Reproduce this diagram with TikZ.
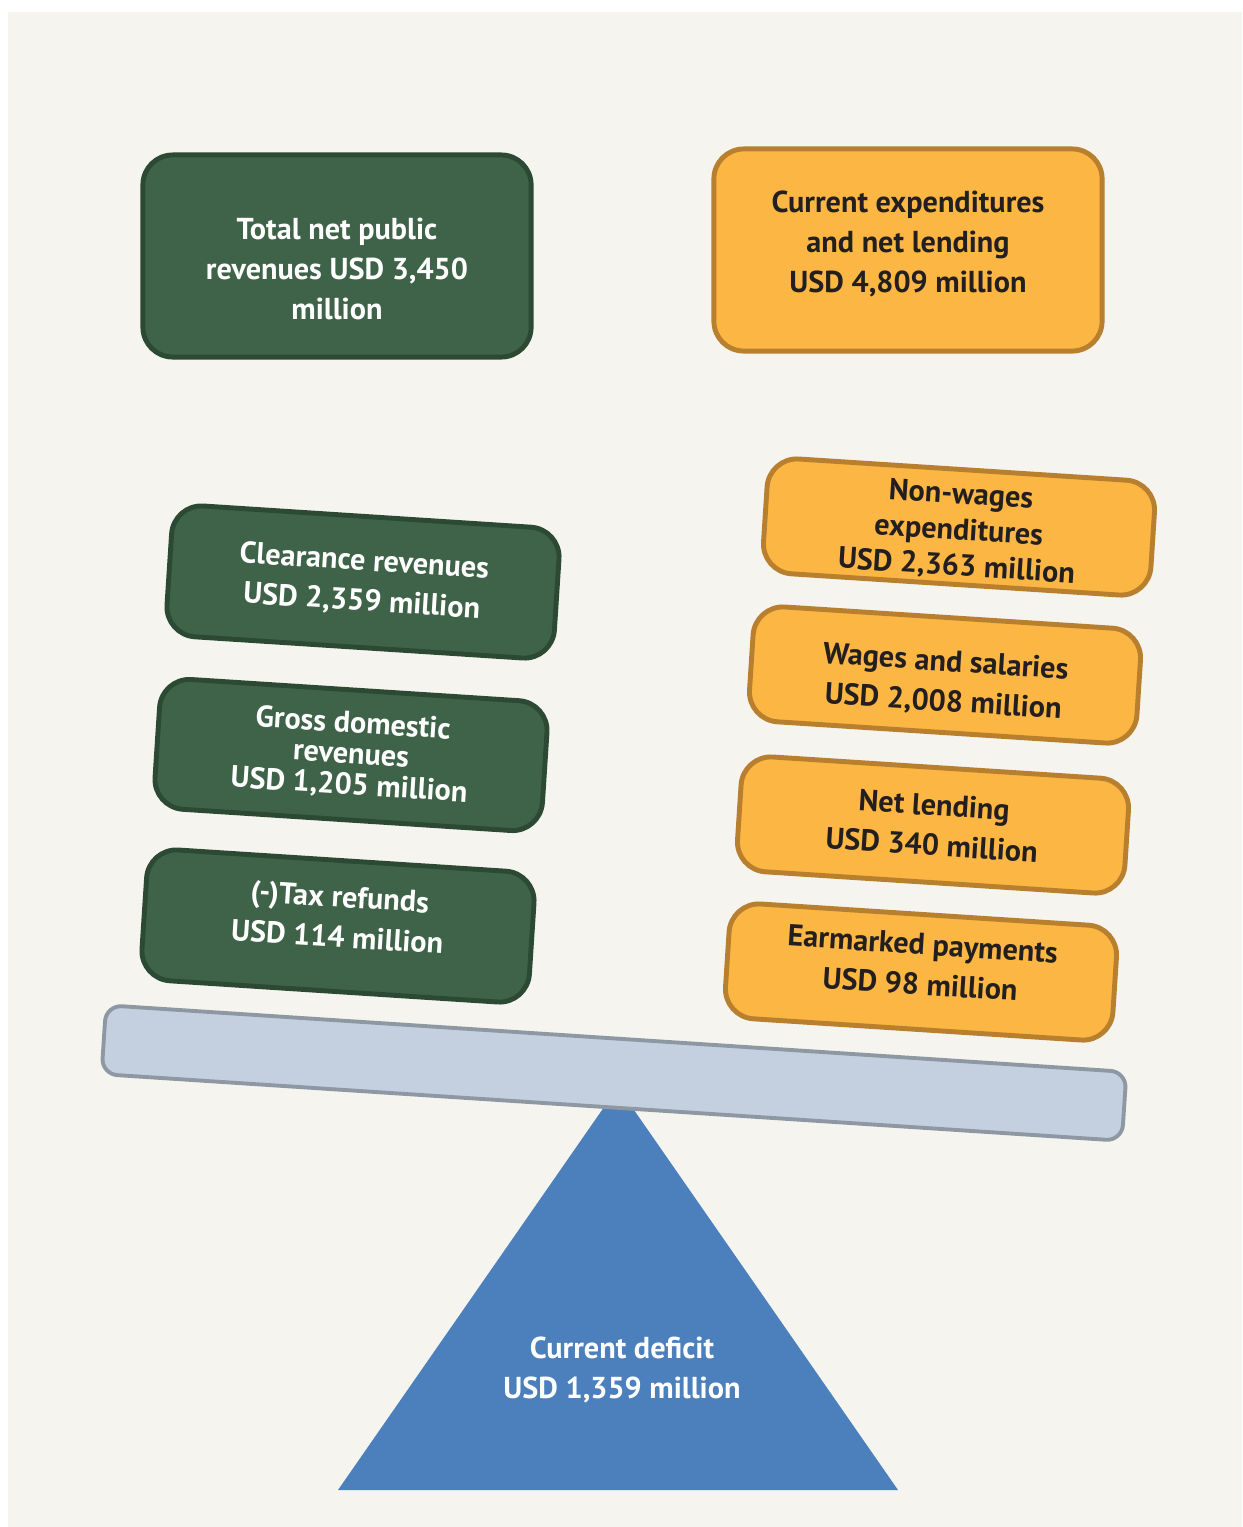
\documentclass[tikz,border=0pt]{standalone}
\usepackage{fontspec}
\setmainfont{PT Sans}
\usepackage{xcolor}
\usetikzlibrary{positioning}

\definecolor{paper}{HTML}{F5F4EF}
\definecolor{revfill}{HTML}{3F6348}
\definecolor{revline}{HTML}{2C4A33}
\definecolor{expfill}{HTML}{FBB643}
\definecolor{expline}{HTML}{B87F2E}
\definecolor{beamfill}{HTML}{C4CFE0}
\definecolor{beamline}{HTML}{8D98A3}
\definecolor{deficitblue}{HTML}{4C80BC}
\definecolor{darktext}{HTML}{231F20}

% struts to nudge a text down (\dn) or up (\up) inside its box
\newcommand{\dn}[1]{\rule{0pt}{#1}}
\newcommand{\up}[1]{\rule[-#1]{0pt}{0pt}}

\tikzset{
  card/.style={line width=1.4pt,rounded corners=8.5pt,align=center,inner sep=0pt,
    minimum width=3.88cm,font=\bfseries\fontsize{8.6}{11.4}\selectfont},
  revcard/.style={card,draw=revline,fill=revfill,text=white},
  expcard/.style={card,draw=expline,fill=expfill,text=darktext},
}

\begin{document}
\begin{tikzpicture}[x=0.01cm,y=-0.01cm]
  \useasboundingbox (0,0) rectangle (1242,1527);
  \fill[paper] (8,12) rectangle (1242,1527);

  % totals
  \node[revcard,minimum height=2.02cm] (totalrev) at (337,256)
    {\dn{13.5pt}Total net public\\revenues USD 3,450\\million};
  \node[expcard,minimum height=2.02cm] (totalexp) at (908,250)
    {Current expenditures\\and net lending\\USD 4,809 million\up{4.5pt}};

  % revenue side
  \node[revcard,minimum height=1.31cm,rotate=-3.7] (clearance) at (363,582)
    {Clearance revenues\\USD 2,359 million};
  \node[revcard,minimum height=1.30cm,rotate=-3.7] (grossdom) at (351,755)
    {Gross domestic\\[-2.6pt]revenues\\[-2.6pt]USD 1,205 million};
  \node[revcard,minimum height=1.31cm,rotate=-3.7] (taxref) at (338,926)
    {(-)Tax refunds\\USD 114 million\up{5.5pt}};

  % expenditure side
  \node[expcard,minimum height=1.15cm,rotate=-3.7] (nonwages) at (959,527)
    {\dn{8.5pt}Non-wages\\[-1.2pt]expenditures\\[-1.2pt]USD 2,363 million};
  \node[expcard,minimum height=1.15cm,rotate=-3.7] (wages) at (945,675)
    {\dn{10.5pt}Wages and salaries\\USD 2,008 million};
  \node[expcard,minimum height=1.15cm,rotate=-3.7] (netlend) at (933,825)
    {Net lending\\USD 340 million};
  \node[expcard,minimum height=1.15cm,rotate=-3.7] (earmark) at (921,972)
    {Earmarked payments\\USD 98 million\up{4.5pt}};

  % fulcrum and beam
  \fill[deficitblue] (338,1490) -- (618,1087) -- (898,1490) -- cycle;
  \node[draw=beamline,fill=beamfill,line width=1.1pt,rounded corners=4.5pt,
    minimum width=10.22cm,minimum height=0.69cm,rotate=-3.74] (beam) at (614,1073) {};
  \node[align=center,text=white,font=\bfseries\fontsize{8.6}{11.4}\selectfont] (deficit) at (622,1370)
    {Current deficit\\USD 1,359 million};
\end{tikzpicture}
\end{document}
